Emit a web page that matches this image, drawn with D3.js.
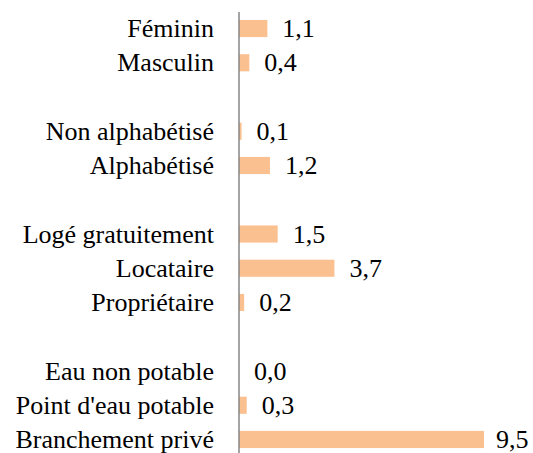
<!DOCTYPE html>
<html>
<head>
<meta charset="utf-8">
<script src="https://cdn.jsdelivr.net/npm/d3@7"></script>
<style>
  svg text { font-family: "Times New Roman", "Liberation Serif", Tinos, serif !important; }
</style>
</head>
<body style="margin:0">
<div id="chart"></div>
<script>
// rows top to bottom, blank strings are the gaps between groups
var categories = ["Féminin", "Masculin", "",
                  "Non alphabétisé", "Alphabétisé", " ",
                  "Logé gratuitement", "Locataire", "Propriétaire", "  ",
                  "Eau non potable", "Point d'eau potable", "Branchement privé"]
var values = [1.1, 0.4, null,
              0.1, 1.2, null,
              1.5, 3.7, 0.2, null,
              0.0, 0.3, 9.5]

var width = 533, height = 453
var axisX = 239

var svg = d3.select("#chart")
  .append("svg")
    .attr("width", width)
    .attr("height", height)

var y = d3.scaleBand().domain(categories).range([11.4, 456.6])
  .paddingInner(0.5).paddingOuter(0.25)
var x = d3.scaleLinear().domain([0, 9.5]).range([axisX, 484])

var rows = categories.map(function(c, i) { return {cat: c, value: values[i]} })
  .filter(function(d) { return d.value !== null })

svg.selectAll("rect").data(rows).enter()
  .append("rect")
    .attr("x", x(0))
    .attr("y", function(d) { return y(d.cat) })
    .attr("width", function(d) { return x(d.value) - x(0) })
    .attr("height", y.bandwidth())
    .attr("fill", "#FAC090")

// category labels
svg.selectAll("text.cat").data(rows).enter()
  .append("text")
    .attr("x", axisX - 25)
    .attr("y", function(d) { return y(d.cat) + y.bandwidth() / 2 })
    .attr("dy", "0.33em")
    .attr("text-anchor", "end")
    .style("font-size", "26px")
    .text(function(d) { return d.cat })

// value labels
svg.selectAll("text.val").data(rows).enter()
  .append("text")
    .attr("x", function(d) { return x(d.value) + (d.value > 9 ? 12 : 15) })
    .attr("y", function(d) { return y(d.cat) + y.bandwidth() / 2 })
    .attr("dy", "0.33em")
    .style("font-size", "26px")
    .text(function(d) { return d.value.toFixed(1).replace(".", ",") })

// vertical axis line
svg.append("line")
  .attr("x1", axisX).attr("x2", axisX)
  .attr("y1", 12).attr("y2", height)
  .attr("stroke", "#868686")
  .attr("stroke-width", 1.5)
</script>
</body>
</html>
